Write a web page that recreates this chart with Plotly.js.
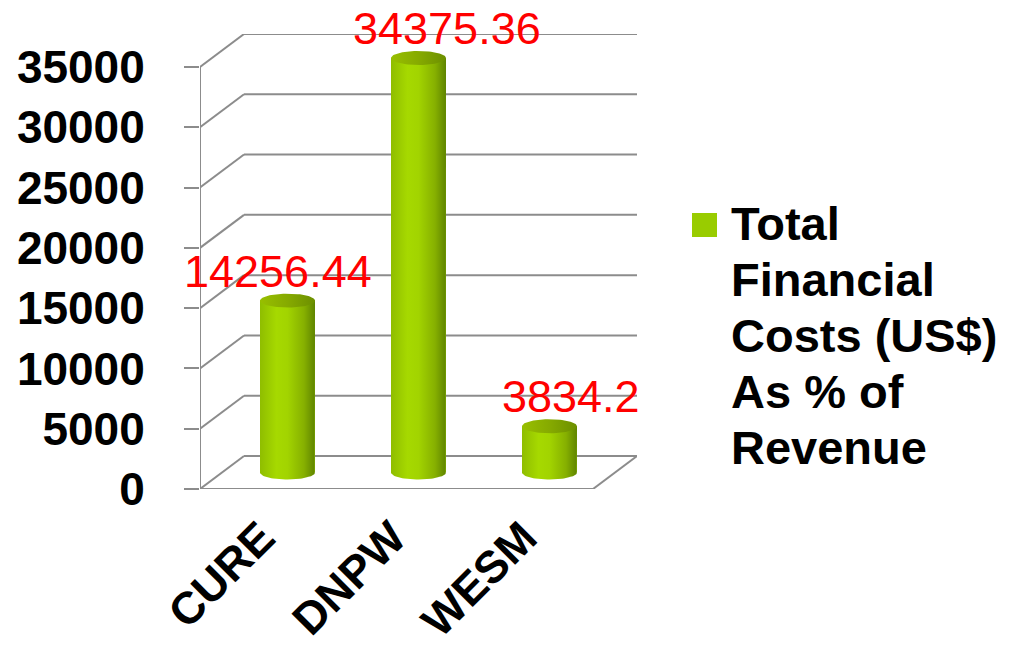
<!DOCTYPE html>
<html>
<head>
<meta charset="utf-8">
<script src="https://cdn.plot.ly/plotly-3.0.1.min.js"></script>
<style>html,body{margin:0;padding:0;background:#fff;}#chart{width:1018px;height:651px;}</style>
</head>
<body>
<div id="chart"></div>
<script>
// ---- data ----
const categories = ['CURE', 'DNPW', 'WESM'];
const values = [14256.44, 34375.36, 3834.2];
const valueLabels = ['14256.44', '34375.36', '3834.2'];
const yTickValues = [0, 5000, 10000, 15000, 20000, 25000, 30000, 35000];
const yTickLabels = ['0', '5000', '10000', '15000', '20000', '25000', '30000', '35000'];
const seriesName = 'Total Financial Costs (US$) As % of Revenue';
const legendLines = ['Total', 'Financial', 'Costs (US$)', 'As % of', 'Revenue'];

// ---- layout geometry ----
const W = 1018, H = 651;
const M = {l: 200, r: 381, t: 34, b: 162};
const plotW = W - M.l - M.r, plotH = H - M.t - M.b;
const catPx = 131;                       // pixels per category
const yPxPer = 422 / 35000;              // pixels per y unit
const xDepth = 44 / catPx;               // 3-D depth in x units
const yDepth = 33 / yPxPer;              // 3-D depth in y units
const nCat = categories.length;
const xMax = nCat + xDepth, yMax = 35000 + yDepth;
const hw = 27.5 / catPx;                 // cylinder half width (x units)
const ry = 7 / yPxPer;                   // ellipse half height (y units)
const labelShift = [-10, 28, 21];
const gridColor = '#8c8c8c';
const FONT = '"Liberation Sans", Arial, sans-serif';

const px2paperX = p => (p - M.l) / plotW;
const px2paperY = p => 1 - (p - M.t) / plotH;

const cx = categories.map((c, i) => i + 0.5 + xDepth / 2);
const base = yDepth / 2;

const traces = [];
// main bar trace (data marks)
traces.push({
  type: 'bar', name: seriesName, x: cx, y: values, base: base,
  width: 2 * hw, marker: {color: '#9acd00', line: {width: 0}},
  hoverinfo: 'skip', showlegend: false
});
// cylinder shading
const N = 40;
values.forEach((v, i) => {
  const top = base + v;
  const xs = [cx[i] - hw, cx[i] - hw, cx[i] + hw, cx[i] + hw];
  const ys = [base, top, top, base];
  for (let k = 0; k <= N; k++) {
    const t = Math.PI * k / N;
    xs.push(cx[i] + hw * Math.cos(t));
    ys.push(base - ry * Math.sin(t));
  }
  traces.push({
    type: 'scatter', mode: 'lines', x: xs, y: ys, fill: 'toself',
    line: {width: 0, color: 'rgba(0,0,0,0)'},
    fillgradient: {type: 'horizontal', colorscale: [[0, '#8fbd00'], [0.3, '#a6d900'], [0.5, '#a2d400'], [0.8, '#86b000'], [1, '#5f8400']]},
    hoverinfo: 'skip', showlegend: false
  });
  const ex = [], ey = [];
  for (let k = 0; k <= 2 * N; k++) {
    const t = Math.PI * k / N;
    ex.push(cx[i] + hw * Math.cos(t));
    ey.push(top + ry * Math.sin(t));
  }
  traces.push({
    type: 'scatter', mode: 'lines', x: ex, y: ey, fill: 'toself',
    line: {width: 0, color: 'rgba(0,0,0,0)'},
    fillgradient: {type: 'horizontal', colorscale: [[0, '#98bf00'], [0.5, '#86aa00'], [1, '#6c8f00']]},
    hoverinfo: 'skip', showlegend: false
  });
});

// ---- shapes: 3-D walls, grid, axes ----
const shapes = [];
const ln = (x0, y0, x1, y1) => ({type: 'line', xref: 'x', yref: 'y', x0, y0, x1, y1, layer: 'below', line: {color: gridColor, width: 2}});
yTickValues.forEach(v => {
  shapes.push(ln(0, v, xDepth, v + yDepth));
  shapes.push(ln(xDepth, v + yDepth, xMax, v + yDepth));
});
shapes.push(ln(0, 0, 0, 35000));               // front value axis
shapes.push(ln(0, 0, nCat, 0));                // front floor edge
shapes.push(ln(nCat, 0, xMax, yDepth));        // right floor edge
for (let i = 0; i <= nCat; i++) {
  shapes.push({type: 'line', xref: 'x', yref: 'y', ysizemode: 'pixel', yanchor: 0,
    x0: i, x1: i, y0: 0, y1: -14, layer: 'below', line: {color: gridColor, width: 2}});
}
// legend key
shapes.push({type: 'rect', xref: 'paper', yref: 'paper',
  x0: px2paperX(692), x1: px2paperX(717), y0: px2paperY(237), y1: px2paperY(213),
  fillcolor: '#99cc00', line: {width: 0}});

// ---- annotations ----
const annotations = values.map((v, i) => ({
  x: cx[i], y: base + v, xref: 'x', yref: 'y', text: valueLabels[i],
  showarrow: false, yanchor: 'bottom', xanchor: 'center', xshift: labelShift[i], yshift: 2,
  font: {family: FONT, size: 45, color: '#ff0000'}
}));
legendLines.forEach((t, k) => {
  annotations.push({
    x: px2paperX(729), y: px2paperY(223 + 56 * k), xref: 'paper', yref: 'paper',
    text: '<b>' + t + '</b>', showarrow: false, xanchor: 'left', yanchor: 'middle',
    font: {family: FONT, size: 47, color: '#000'}
  });
});

const layout = {
  width: W, height: H, margin: M,
  paper_bgcolor: '#fff', plot_bgcolor: '#fff', showlegend: false,
  xaxis: {range: [0, xMax], showgrid: false, zeroline: false, showline: false,
    tickmode: 'array', tickvals: categories.map((c, i) => i + 0.5), ticktext: categories.map(c => '<b>' + c + '</b>'),
    tickangle: -45, ticks: '', ticklabelstandoff: 12, ticklabelshift: -4,
    tickfont: {family: FONT, size: 45, color: '#000'}, fixedrange: true},
  yaxis: {range: [0, yMax], showgrid: false, zeroline: false, showline: false,
    tickmode: 'array', tickvals: yTickValues, ticktext: yTickLabels.map(t => '<b>' + t + '</b>'),
    ticks: 'outside', ticklen: 15, tickwidth: 2, tickcolor: gridColor, ticklabelstandoff: 30,
    tickfont: {family: FONT, size: 46, color: '#000'}, fixedrange: true},
  shapes: shapes, annotations: annotations
};

Plotly.newPlot('chart', traces, layout, {displayModeBar: false, staticPlot: true});
</script>
</body>
</html>
